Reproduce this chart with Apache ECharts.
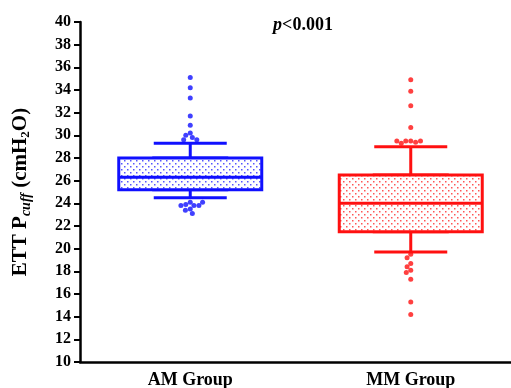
<!DOCTYPE html>
<html>
<head>
<meta charset="utf-8">
<script src="https://cdn.jsdelivr.net/npm/echarts@6/dist/echarts.min.js"></script>
<style>
  html, body { margin: 0; padding: 0; background: #fff; }
  #chart { width: 511px; height: 388px; }
</style>
</head>
<body>
<div id="chart"></div>
<script>
  // data
  let groups = ['AM Group', 'MM Group'];
  // [low whisker, Q1, median, Q3, high whisker]
  let amBox = [24.5, 25.2, 26.3, 28.0, 29.3];
  let mmBox = [19.7, 21.5, 24.0, 26.5, 29.0];
  let amOutliers = [35.1, 34.2, 33.3, 31.7, 30.9, 30.2, 30.0, 29.8, 29.6, 29.6,
                    24.1, 23.9, 23.8, 23.8, 23.8, 24.1, 23.5, 23.4, 23.1];
  let mmOutliers = [34.9, 33.9, 32.6, 30.7, 29.5, 29.5, 29.4, 29.3, 29.5, 29.5,
                    19.5, 19.2, 18.7, 18.4, 18.1, 17.9, 17.3, 15.3, 14.2];
  let colors = ['#1010ff', '#ff1010'];
  let dotColors = ['rgba(30,30,255,0.75)', 'rgba(255,30,30,0.75)'];

  let serif = 'Liberation Serif';

  function dots(color) {
    let c = document.createElement('canvas');
    c.width = 6; c.height = 6;
    let ctx = c.getContext('2d');
    ctx.fillStyle = '#fff';
    ctx.fillRect(0, 0, 6, 6);
    ctx.fillStyle = color;
    ctx.fillRect(1, 1, 1.5, 1.5);
    ctx.fillRect(4, 4, 1.5, 1.5);
    return c;
  }

  let myChart = echarts.init(document.getElementById('chart'));

  let boxes = [amBox, mmBox];

  let option = {
    animation: false,
    backgroundColor: '#fff',
    title: {
      text: '{i|p}{b|<0.001}',
      left: 298,
      top: 11,
      textAlign: 'center',
      textStyle: {
        rich: {
          i: { fontFamily: serif, fontStyle: 'italic', fontSize: 18, color: '#000' },
          b: { fontFamily: serif, fontWeight: 'bold', fontSize: 18, color: '#000' }
        }
      }
    },
    grid: { left: 80, right: -10, top: 22, bottom: 26, containLabel: false, outerBoundsMode: 'none' },
    xAxis: [
      {
        type: 'category',
        data: groups,
        jitter: 30,
        jitterOverlap: false,
        jitterMargin: 0,
        axisLine: { lineStyle: { color: '#000', width: 2.5 } },
        axisTick: { show: false },
        axisLabel: { fontFamily: serif, fontWeight: 'bold', fontSize: 18, color: '#000', margin: 9 },
        splitLine: { show: false }
      },
      {
        type: 'category',
        data: groups,
        show: false
      }
    ],
    yAxis: {
      type: 'value',
      min: 10,
      max: 40,
      interval: 2,
      name: '{b|ETT P}{s|cuff}{b| (cmH}{t|2}{b|O)}',
      nameLocation: 'middle',
      nameGap: 47,
      nameRotate: 90,
      nameTextStyle: {
        rich: {
          b: { fontFamily: serif, fontWeight: 'bold', fontSize: 21, color: '#000' },
          s: { fontFamily: serif, fontWeight: 'bold', fontStyle: 'italic', fontSize: 14, color: '#000', padding: [10, 0, 0, 0] },
          t: { fontFamily: serif, fontWeight: 'bold', fontSize: 13, color: '#000', padding: [10, 0, 0, 0] }
        }
      },
      axisLine: { show: true, lineStyle: { color: '#000', width: 2.5 } },
      axisTick: { show: true, length: 6, lineStyle: { color: '#000', width: 2 } },
      axisLabel: { fontFamily: serif, fontWeight: 'bold', fontSize: 16, color: '#000', margin: 9 },
      splitLine: { show: false }
    },
    series: [
      {
        // whiskers with short caps
        type: 'boxplot',
        xAxisIndex: 1,
        boxWidth: [73, 73],
        z: 1,
        silent: true,
        data: boxes.map((b, i) => ({
          value: b,
          itemStyle: { color: 'rgba(0,0,0,0)', borderColor: colors[i], borderWidth: 3 }
        }))
      },
      {
        // the boxes themselves
        type: 'boxplot',
        xAxisIndex: 0,
        boxWidth: [143, 143],
        z: 2,
        silent: true,
        data: boxes.map((b, i) => ({
          value: [b[1], b[1], b[2], b[3], b[3]],
          itemStyle: {
            color: { image: dots(dotColors[i]), repeat: 'repeat' },
            borderColor: colors[i],
            borderWidth: 3
          }
        }))
      },
      {
        type: 'scatter',
        xAxisIndex: 0,
        symbolSize: 5,
        z: 3,
        itemStyle: { color: colors[0] },
        data: amOutliers.map(v => [groups[0], v])
      },
      {
        type: 'scatter',
        xAxisIndex: 0,
        symbolSize: 5,
        z: 3,
        itemStyle: { color: colors[1] },
        data: mmOutliers.map(v => [groups[1], v])
      }
    ]
  };

  myChart.setOption(option, true);
</script>
</body>
</html>
